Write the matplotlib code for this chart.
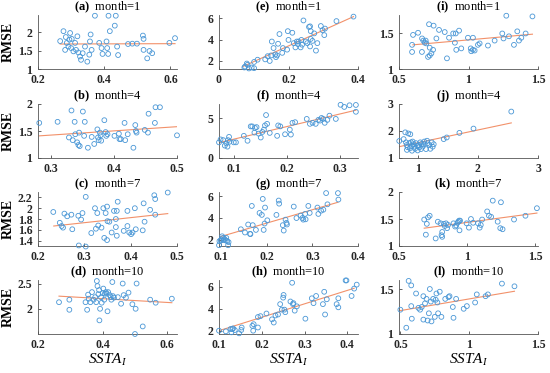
import matplotlib
matplotlib.use("Agg")
import matplotlib.pyplot as plt

plt.rcParams["font.family"] = "Liberation Serif"
plt.rcParams["mathtext.fontset"] = "custom"
plt.rcParams["mathtext.rm"] = "Liberation Serif"
plt.rcParams["mathtext.it"] = "Liberation Serif:italic"
plt.rcParams["mathtext.bf"] = "Liberation Serif:bold"

# ---- data ----
x_a = [0.267, 0.277, 0.284, 0.282, 0.287, 0.292, 0.295, 0.297, 0.300, 0.302, 0.307, 0.312, 0.315, 0.319,
       0.322, 0.327, 0.330, 0.335, 0.342, 0.349, 0.355, 0.357, 0.359, 0.362, 0.372, 0.385, 0.392, 0.395,
       0.407, 0.409, 0.412, 0.417, 0.413, 0.435, 0.432, 0.439, 0.442, 0.472, 0.485, 0.499, 0.517, 0.519,
       0.519, 0.530, 0.537, 0.545, 0.597, 0.614]
y_a = [1.76, 2.03, 1.87, 1.52, 1.71, 1.61, 1.80, 1.98, 1.57, 1.82, 1.48, 1.71, 1.52, 1.89,
       1.45, 1.34, 1.25, 1.43, 1.61, 1.20, 1.39, 1.75, 1.94, 1.52, 2.45, 1.71, 1.57, 1.41,
       1.75, 1.57, 1.41, 2.03, 2.45, 2.45, 2.18, 1.61, 1.38, 1.68, 1.69, 1.69, 1.91, 1.82,
       1.52, 1.29, 1.49, 1.43, 1.71, 1.84]

x_b = [0.282, 0.311, 0.329, 0.333, 0.335, 0.338, 0.339, 0.342, 0.344, 0.345, 0.346, 0.351, 0.353, 0.354,
       0.359, 0.365, 0.369, 0.374, 0.375, 0.376, 0.378, 0.379, 0.380, 0.385, 0.387, 0.388, 0.390, 0.401,
       0.408, 0.409, 0.411, 0.417, 0.418, 0.422, 0.431, 0.434, 0.435, 0.436, 0.449, 0.454, 0.455, 0.465,
       0.466, 0.473, 0.500]
y_b = [1.65, 1.67, 1.38, 1.88, 1.33, 1.67, 1.44, 1.29, 1.24, 1.47, 1.22, 1.86, 1.41, 1.67,
       1.19, 1.39, 1.26, 1.53, 1.38, 1.33, 1.47, 1.42, 1.32, 1.70, 1.48, 1.41, 1.44, 1.41,
       1.45, 1.35, 1.35, 1.65, 1.33, 1.44, 1.19, 1.61, 1.50, 1.47, 1.52, 1.47, 1.82, 1.65,
       1.94, 1.94, 1.42]

x_c = [0.233, 0.247, 0.251, 0.254, 0.257, 0.263, 0.272, 0.274, 0.287, 0.288, 0.293, 0.296, 0.303, 0.303,
       0.315, 0.323, 0.325, 0.328, 0.330, 0.337, 0.341, 0.343, 0.346, 0.349, 0.349, 0.350, 0.354, 0.359,
       0.364, 0.368, 0.368, 0.370, 0.370, 0.372, 0.385, 0.393, 0.393, 0.397, 0.401, 0.404, 0.409, 0.411,
       0.426, 0.428, 0.430, 0.442, 0.451, 0.453, 0.453, 0.480]
y_c = [1.93, 1.73, 1.67, 1.64, 1.90, 1.85, 1.88, 1.61, 1.86, 1.31, 1.79, 1.91, 1.29, 2.21,
       1.54, 2.00, 1.62, 1.91, 1.68, 1.64, 2.00, 1.45, 1.91, 2.03, 1.41, 1.76, 1.75, 1.55,
       1.95, 1.80, 1.65, 1.49, 1.95, 2.12, 1.58, 1.67, 1.95, 1.55, 1.52, 1.55, 2.00, 1.61,
       1.59, 2.09, 1.75, 1.97, 2.24, 2.17, 1.88, 2.29]

x_d = [0.265, 0.297, 0.297, 0.347, 0.352, 0.355, 0.357, 0.362, 0.367, 0.372, 0.377, 0.380, 0.382, 0.384,
       0.387, 0.389, 0.390, 0.392, 0.395, 0.397, 0.400, 0.402, 0.405, 0.407, 0.410, 0.412, 0.415, 0.417,
       0.422, 0.425, 0.427, 0.430, 0.432, 0.435, 0.447, 0.457, 0.462, 0.465, 0.472, 0.480, 0.492, 0.502,
       0.505, 0.500, 0.524, 0.547, 0.564, 0.614]
y_d = [2.13, 2.18, 1.98, 2.13, 1.98, 2.28, 2.20, 2.13, 2.33, 2.18, 2.23, 2.13, 2.55, 2.45,
       2.29, 2.37, 1.77, 2.00, 2.23, 2.12, 2.31, 2.40, 2.18, 2.30, 2.33, 2.30, 1.95, 2.33,
       2.27, 2.23, 2.18, 2.53, 2.25, 2.22, 2.23, 2.10, 2.50, 2.27, 2.22, 2.32, 2.09, 2.00,
       2.50, 1.50, 1.65, 2.18, 2.12, 2.20]

x_e = [0.073, 0.075, 0.080, 0.082, 0.086, 0.094, 0.101, 0.101, 0.111, 0.133, 0.140, 0.146, 0.150, 0.152,
       0.157, 0.162, 0.164, 0.167, 0.170, 0.174, 0.182, 0.184, 0.196, 0.198, 0.200, 0.211, 0.215, 0.220,
       0.224, 0.227, 0.229, 0.235, 0.237, 0.239, 0.243, 0.250, 0.254, 0.259, 0.262, 0.262, 0.264, 0.264,
       0.269, 0.274, 0.279, 0.283, 0.293, 0.298, 0.303, 0.305, 0.338, 0.387]
y_e = [1.39, 1.48, 1.76, 1.64, 1.30, 1.39, 1.33, 1.91, 2.12, 2.15, 2.45, 2.00, 2.52, 3.82,
       3.21, 2.61, 2.36, 2.52, 3.61, 4.52, 2.76, 3.21, 3.06, 4.79, 3.97, 4.64, 3.67, 3.27,
       3.82, 3.58, 3.82, 3.27, 3.97, 3.52, 5.79, 3.82, 3.67, 5.18, 5.24, 3.36, 4.79, 4.06,
       3.88, 4.58, 2.97, 3.67, 5.27, 4.88, 4.42, 5.03, 5.73, 6.15]

x_f = [0.072, 0.075, 0.080, 0.083, 0.086, 0.088, 0.089, 0.091, 0.092, 0.100, 0.104, 0.119, 0.126, 0.132,
       0.135, 0.139, 0.140, 0.143, 0.147, 0.151, 0.154, 0.157, 0.159, 0.161, 0.163, 0.168, 0.182, 0.184,
       0.188, 0.197, 0.206, 0.208, 0.211, 0.216, 0.238, 0.244, 0.249, 0.255, 0.260, 0.263, 0.266, 0.269,
       0.272, 0.277, 0.281, 0.293, 0.302, 0.309, 0.319, 0.331, 0.331]
y_f = [1.97, 2.34, 2.25, 1.56, 1.84, 1.43, 2.25, 2.66, 2.05, 1.97, 1.97, 2.79, 2.17, 3.98,
       3.98, 3.20, 3.79, 3.89, 3.07, 2.58, 3.28, 3.57, 4.10, 5.41, 4.30, 3.16, 2.79, 4.10,
       3.98, 2.99, 3.57, 2.95, 4.43, 4.51, 4.92, 4.30, 4.43, 4.30, 4.80, 4.71, 5.04, 4.92,
       4.43, 4.80, 5.33, 4.92, 6.70, 6.43, 6.64, 6.68, 5.82]

x_g = [0.095, 0.096, 0.099, 0.100, 0.102, 0.104, 0.105, 0.107, 0.110, 0.111, 0.113, 0.115, 0.116, 0.143,
       0.152, 0.159, 0.163, 0.164, 0.167, 0.169, 0.176, 0.184, 0.189, 0.191, 0.193, 0.195, 0.196, 0.201,
       0.221, 0.226, 0.227, 0.235, 0.237, 0.241, 0.243, 0.244, 0.259, 0.265, 0.274, 0.278, 0.280, 0.284,
       0.285, 0.291, 0.294, 0.311, 0.313, 0.319, 0.324, 0.330, 0.333, 0.356, 0.357]
y_g = [1.47, 1.85, 1.91, 2.00, 2.30, 2.15, 1.94, 2.06, 1.91, 2.15, 1.85, 1.47, 1.76, 2.95,
       2.65, 3.39, 2.53, 2.50, 5.11, 3.33, 2.89, 4.46, 4.28, 5.76, 2.89, 3.48, 4.96, 3.78,
       4.28, 5.61, 5.32, 3.33, 2.83, 3.84, 3.54, 3.39, 5.05, 3.99, 4.22, 3.99, 3.84, 4.37,
       3.87, 5.11, 4.46, 4.96, 4.37, 4.67, 4.76, 6.30, 5.26, 6.30, 5.70]

x_h = [0.100, 0.116, 0.127, 0.129, 0.131, 0.133, 0.137, 0.147, 0.152, 0.153, 0.178, 0.180, 0.181, 0.191,
       0.191, 0.197, 0.211, 0.224, 0.228, 0.232, 0.238, 0.243, 0.247, 0.250, 0.251, 0.253, 0.255, 0.267,
       0.271, 0.273, 0.274, 0.277, 0.282, 0.302, 0.317, 0.321, 0.327, 0.343, 0.346, 0.348, 0.352, 0.375,
       0.379, 0.379, 0.396, 0.398, 0.410, 0.416, 0.422]
y_h = [2.00, 1.94, 2.15, 1.85, 2.15, 2.21, 2.06, 1.76, 2.06, 2.29, 2.44, 2.00, 2.59, 2.29,
       3.24, 3.32, 3.56, 3.03, 2.74, 3.38, 3.47, 4.41, 3.91, 5.00, 5.24, 3.91, 3.68, 4.65,
       6.35, 4.41, 4.50, 3.82, 4.21, 3.09, 4.94, 4.50, 5.15, 4.41, 5.53, 3.47, 4.85, 4.41,
       4.94, 4.12, 6.56, 6.56, 5.15, 5.82, 6.18]

x_i = [0.594, 0.594, 0.601, 0.637, 0.665, 0.666, 0.675, 0.685, 0.692, 0.697, 0.709, 0.716, 0.721, 0.721,
       0.733, 0.745, 0.749, 0.769, 0.788, 0.829, 0.845, 0.860, 0.890, 0.902, 0.908, 0.912, 0.932, 0.948,
       0.996, 1.016, 1.020, 1.032, 1.032, 1.044, 1.068, 1.080, 1.140, 1.188, 1.243, 1.252, 1.272, 1.291,
       1.327, 1.351, 1.363, 1.380, 1.411, 1.460]
y_i = [1.34, 1.24, 1.48, 1.51, 1.24, 1.43, 1.40, 1.37, 1.40, 1.36, 1.17, 1.63, 1.30, 1.19,
       1.22, 1.27, 1.61, 1.43, 1.55, 1.52, 1.15, 1.44, 1.50, 1.37, 1.50, 1.27, 1.54, 1.29,
       1.44, 1.29, 1.25, 1.44, 1.27, 1.26, 1.34, 1.36, 1.33, 1.40, 1.50, 1.43, 1.75, 1.46,
       1.34, 1.53, 1.40, 1.44, 1.50, 1.74]

x_j = [0.694, 0.767, 0.794, 0.806, 0.817, 0.822, 0.833, 0.844, 0.861, 0.872, 0.878, 0.889, 0.900, 0.906,
       0.917, 0.933, 0.944, 0.956, 0.972, 0.989, 1.000, 1.017, 1.028, 1.044, 1.056, 1.067, 1.083, 1.100,
       1.111, 1.139, 1.156, 1.167, 1.194, 1.211, 1.233, 1.250, 1.267, 1.433, 1.483, 1.694, 1.928, 2.556]
y_j = [1.63, 1.70, 1.95, 1.58, 1.48, 1.30, 1.40, 1.91, 1.55, 1.36, 1.88, 1.58, 1.45, 1.27,
       1.61, 1.51, 1.42, 1.34, 1.55, 1.45, 1.28, 1.48, 1.40, 1.58, 1.33, 1.52, 1.42, 1.51,
       1.61, 1.33, 1.64, 1.55, 1.48, 1.34, 1.58, 1.42, 1.51, 1.70, 1.76, 1.93, 2.09, 2.72]

x_k = [0.685, 0.697, 0.704, 0.713, 0.725, 0.769, 0.785, 0.805, 0.812, 0.817, 0.817, 0.829, 0.836, 0.845,
       0.853, 0.860, 0.900, 0.912, 0.920, 0.929, 0.936, 0.941, 0.948, 0.944, 0.996, 1.013, 1.028, 1.044,
       1.080, 1.092, 1.100, 1.110, 1.147, 1.160, 1.176, 1.188, 1.224, 1.243, 1.248, 1.260, 1.344, 1.428,
       1.512]
y_k = [1.49, 1.21, 1.41, 1.53, 1.56, 1.14, 1.45, 1.42, 1.20, 1.17, 1.26, 1.41, 1.37, 1.42,
       1.33, 1.39, 1.42, 1.36, 1.38, 1.43, 1.45, 1.47, 1.47, 1.29, 1.42, 1.34, 1.50, 1.43,
       1.42, 1.34, 1.39, 1.49, 1.64, 1.56, 1.54, 1.84, 1.45, 1.33, 1.81, 1.31, 1.49, 1.56,
       1.70]

x_l = [0.500, 0.543, 0.560, 0.579, 0.579, 0.583, 0.614, 0.631, 0.643, 0.655, 0.667, 0.667, 0.679, 0.690,
       0.698, 0.707, 0.714, 0.721, 0.726, 0.738, 0.750, 0.757, 0.762, 0.769, 0.774, 0.786, 0.798, 0.826,
       0.850, 0.857, 0.881, 0.886, 0.905, 0.960, 0.983, 1.043, 1.055, 1.119, 1.136, 1.238, 1.329]
y_l = [1.27, 1.07, 1.59, 1.54, 1.31, 1.17, 1.45, 1.29, 1.27, 1.30, 1.42, 1.16, 1.34, 1.39,
       1.15, 1.23, 1.50, 1.36, 1.14, 1.39, 1.19, 1.38, 1.45, 1.35, 1.23, 1.47, 1.19, 1.39,
       1.41, 1.42, 1.30, 1.18, 1.39, 1.28, 1.31, 1.35, 1.44, 1.42, 1.44, 1.56, 1.53]

# fitted lines (end points)
fit_x = [[0.267, 0.614], [0.282, 0.500], [0.234, 0.480], [0.265, 0.614],
         [0.070, 0.387], [0.072, 0.331], [0.096, 0.356], [0.100, 0.416],
         [0.600, 1.460], [0.694, 2.556], [0.685, 1.512], [0.500, 1.329]]
fit_y = [[1.68, 1.69], [1.41, 1.58], [1.67, 1.90], [2.25, 2.12],
         [1.50, 6.15], [1.93, 6.02], [2.24, 5.45], [2.00, 5.85],
         [1.34, 1.49], [1.42, 2.30], [1.33, 1.61], [1.26, 1.475]]

xs = [x_a, x_b, x_c, x_d, x_e, x_f, x_g, x_h, x_i, x_j, x_k, x_l]
ys = [y_a, y_b, y_c, y_d, y_e, y_f, y_g, y_h, y_i, y_j, y_k, y_l]
letters = ["a", "b", "c", "d", "e", "f", "g", "h", "i", "j", "k", "l"]
months = [1, 4, 7, 10]

xlims = [(0.2, 0.62), (0.28, 0.5), (0.2, 0.5), (0.2, 0.63),
         (0, 0.4), (0.072, 0.335), (0.095, 0.4), (0.1, 0.425),
         (0.5, 1.5), (0.69, 3), (0.5, 1.52), (0.49, 1.5)]
ylims = [(1, 2.47), (1, 2), (1.3, 2.3), (1.5, 2.57),
         (1.25, 6.3), (0, 6.8), (1.4, 6.4), (1.7, 6.6),
         (1, 1.76), (1, 3), (1, 2), (1, 1.6)]
xticks = [[0.2, 0.4, 0.6], [0.3, 0.4, 0.5], [0.2, 0.3, 0.4, 0.5], [0.2, 0.4, 0.6],
          [0, 0.2, 0.4], [0.1, 0.2, 0.3], [0.1, 0.2, 0.3, 0.4], [0.1, 0.2, 0.3, 0.4],
          [0.5, 1, 1.5], [1, 2, 3], [0.5, 1, 1.5], [0.5, 1, 1.5]]
yticks = [[1, 1.5, 2], [1, 1.5, 2], [1.4, 1.6, 1.8, 2, 2.2], [2, 2.5],
          [2, 4, 6], [0, 5], [2, 4, 6], [2, 4, 6],
          [1, 1.5], [1, 2, 3], [1, 1.5, 2], [1, 1.5]]

W, H = 550, 373
fig = plt.figure(figsize=(5.5, 3.73), dpi=100)

col_left = [38, 219, 399]
row_bottom = [69, 158, 246, 334]
ax_w, ax_h = 139, 54

for i in range(12):
    col = i // 4
    row = i % 4
    ax = fig.add_axes([col_left[col] / W, (H - row_bottom[row]) / H, ax_w / W, ax_h / H])
    ax.scatter(xs[i], ys[i], s=12, facecolors="none", edgecolors="#4a97d6", linewidths=0.6,
               zorder=3, clip_on=False)
    ax.plot(fit_x[i], fit_y[i], color="#f2916a", lw=0.8, zorder=2)
    ax.set_xlim(*xlims[i])
    ax.set_ylim(*ylims[i])
    ax.set_xticks(xticks[i])
    ax.set_xticklabels([f"{t:g}" for t in xticks[i]])
    ax.set_yticks(yticks[i])
    ax.set_yticklabels([f"{t:g}" for t in yticks[i]])
    for lab in ax.get_xticklabels() + ax.get_yticklabels():
        lab.set_fontweight("bold")
        lab.set_fontsize(8.5)
    ax.tick_params(direction="in", length=2, width=0.5, colors="#262626")
    ax.tick_params(axis="x", pad=3.5)
    ax.tick_params(axis="y", pad=4)
    for s in ["top", "right"]:
        ax.spines[s].set_visible(False)
    for s in ["left", "bottom"]:
        ax.spines[s].set_linewidth(0.6)
        ax.spines[s].set_color("#555555")
    ax.set_title(r"$\mathbf{(" + letters[i] + r")}$  month=" + str(months[row]), fontsize=9, pad=1.5)
    if col == 0:
        ax.set_ylabel("RMSE", fontweight="bold", fontsize=10, labelpad=2)
    if row == 3:
        ax.set_xlabel(r"$SSTA_I$", fontsize=11, labelpad=1)

fig.savefig("out.png", dpi=100)
